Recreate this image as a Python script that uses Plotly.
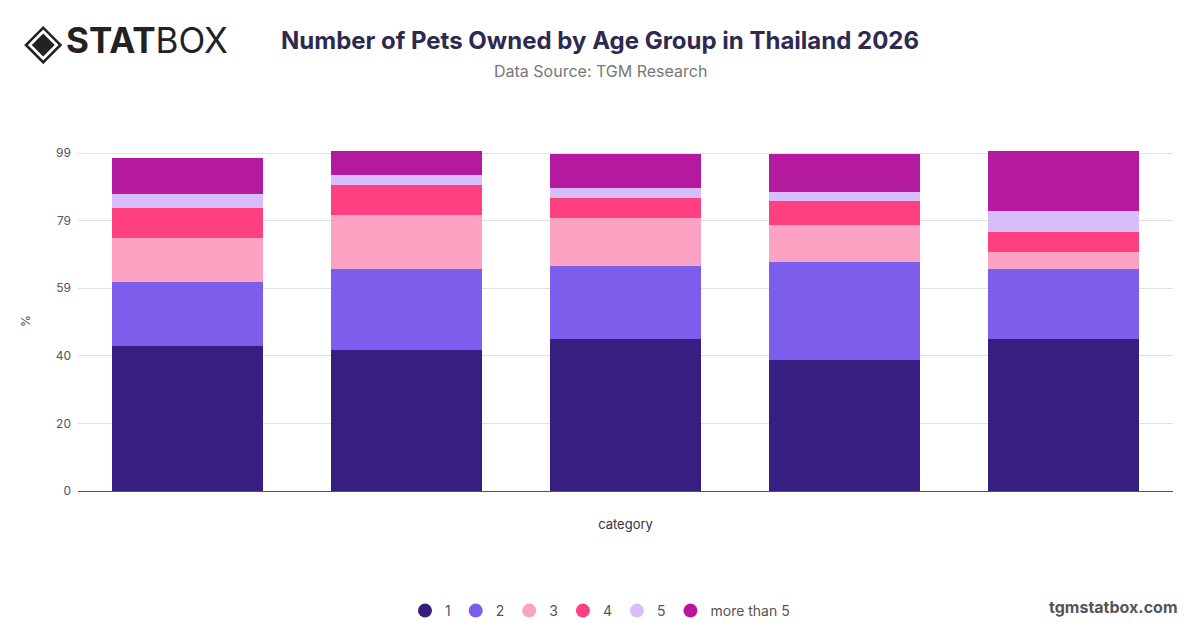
import plotly.graph_objects as go

categories = ["18-24", "25-34", "35-44", "45-54", "55+"]
series_names = ["1", "2", "3", "4", "5", "more than 5"]
s1 = [42.5, 41.4, 44.4, 38.4, 44.4]
s2 = [18.7, 23.7, 21.6, 28.6, 20.7]
s3 = [12.9, 15.8, 13.9, 11.0, 5.0]
s4 = [8.8, 8.8, 5.9, 6.9, 5.9]
s5 = [4.1, 3.0, 2.9, 2.8, 5.9]
s6 = [10.6, 6.9, 9.9, 10.9, 17.7]
series_values = [s1, s2, s3, s4, s5, s6]
colors = ["#371F82", "#7D5DEB", "#FCA3C4", "#FE4080", "#D7BDFA", "#B4199F"]
tick_vals = [0, 19.8, 39.6, 59.4, 79.2, 99, 99.6]
tick_text = ["0", "20", "40", "59", "79", "99", ""]

FONT = "Inter, Liberation Sans, Arial, sans-serif"

fig = go.Figure()
for name, vals, col in zip(series_names, series_values, colors):
    fig.add_trace(go.Bar(x=categories, y=vals, name=name, marker=dict(color=col, line=dict(width=0)),
                         showlegend=False))
for name, col in zip(series_names, colors):
    fig.add_trace(go.Scatter(x=[None], y=[None], mode="markers", name=name,
                             marker=dict(color=col, size=14, symbol="circle")))

fig.update_layout(
    width=1200, height=628,
    barmode="stack", bargap=0.312,
    paper_bgcolor="white", plot_bgcolor="white",
    margin=dict(l=70, r=35, t=143, b=145, autoexpand=False),
    font=dict(family=FONT, color="#555555"),
    showlegend=True,
    legend=dict(orientation="h", x=(600-78)/1095, xanchor="center", y=-0.353, yanchor="middle",
                font=dict(size=14, color="#555555"), itemwidth=30, traceorder="normal"),
    xaxis=dict(showticklabels=False, showgrid=False, showline=True, linecolor="#555555", linewidth=1,
               title=dict(text="category", font=dict(size=13, color="#333333"), standoff=28),
               ticks=""),
    yaxis=dict(range=[0, 99.6], tickvals=tick_vals, ticktext=tick_text, showgrid=True,
               gridcolor="#E0E0E0", gridwidth=1, zeroline=False, tickfont=dict(size=12, color="#555555"),
               ticklabelstandoff=6,
               title=dict(text="%", font=dict(size=12, color="#555555"), standoff=22), ticks=""),
)

fig.add_annotation(text="<b>Number of Pets Owned by Age Group in Thailand 2026</b>", xref="paper", yref="paper",
                   x=(600-78)/1095, y=(491-40)/340, xanchor="center", yanchor="middle",
                   showarrow=False, font=dict(size=24, color="#2E2A4F", family=FONT))
fig.add_annotation(text="Data Source: TGM Research", xref="paper", yref="paper",
                   x=(600-78)/1095, y=(491-71)/340, xanchor="center", yanchor="middle",
                   showarrow=False, font=dict(size=16, color="#777777", family=FONT))
fig.add_annotation(text="◈", xref="paper", yref="paper", x=(22-78)/1095, y=(491-41)/340,
                   xanchor="left", yanchor="middle", showarrow=False,
                   font=dict(size=50, color="#222222", family="DejaVu Sans"))
fig.add_annotation(text="<b>STAT</b>BOX", xref="paper", yref="paper", x=(64-78)/1095, y=(491-40)/340,
                   xanchor="left", yanchor="middle", showarrow=False,
                   font=dict(size=35, color="#222222", family=FONT))
fig.add_annotation(text="<b>tgmstatbox.com</b>", xref="paper", yref="paper", x=(1180-78)/1095, y=(491-607)/340,
                   xanchor="right", yanchor="middle", showarrow=False,
                   font=dict(size=16, color="#555555", family=FONT))

fig.write_html("out.html")
